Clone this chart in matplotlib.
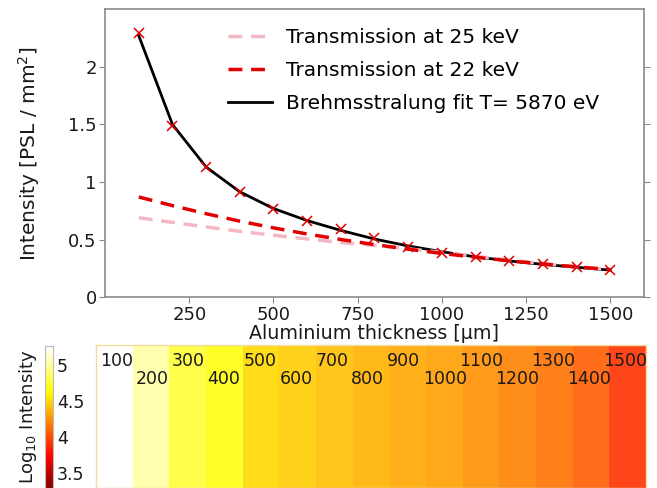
import numpy as np
import matplotlib
matplotlib.use('Agg')
import matplotlib.pyplot as plt

# aluminium thickness in µm
thickness = [100, 200, 300, 400, 500, 600, 700, 800, 900, 1000, 1100, 1200, 1300, 1400, 1500]

# measured intensity [PSL / mm^2]
measured = [2.29, 1.49, 1.13, 0.91, 0.77, 0.66, 0.59, 0.51, 0.44, 0.385, 0.345, 0.31, 0.285, 0.265, 0.235]
# bremsstrahlung fit
fit = [2.27, 1.50, 1.13, 0.915, 0.77, 0.665, 0.58, 0.505, 0.445, 0.395, 0.35, 0.315, 0.285, 0.26, 0.235]
# transmission curves
trans_22 = [0.87, 0.795, 0.725, 0.66, 0.602, 0.549, 0.501, 0.457, 0.417, 0.38, 0.347, 0.316, 0.288, 0.263, 0.24]
trans_25 = [0.69, 0.65, 0.61, 0.572, 0.538, 0.506, 0.475, 0.45, 0.42, 0.39, 0.355, 0.322, 0.292, 0.265, 0.24]

# log10 intensity of each strip on the image plate
strip_log = [5.25, 5.03, 4.77, 4.68, 4.51, 4.46, 4.41, 4.37, 4.33, 4.30, 4.25, 4.19, 4.13, 4.06, 3.91]

plt.rcParams['font.family'] = 'DejaVu Sans'
grey = '#8a8a8a'
txt = '#1a1a1a'

fig = plt.figure(figsize=(6.57, 4.88), dpi=100)

# ---- top: intensity vs thickness
ax = fig.add_axes([0.160, 0.391, 0.820, 0.590])
ln_fit, = ax.plot(thickness, fit, color='black', lw=2, zorder=2)
ln_25, = ax.plot(thickness, trans_25, color='#f2b8c4', lw=2.5, ls=(0, (4, 2.5)), zorder=3)
ln_22, = ax.plot(thickness, trans_22, color='#e00000', lw=2.5, ls=(0, (4, 2.5)), zorder=4)
ax.plot(thickness, measured, ls='none', marker='x', ms=7, mew=1.1, color='#e00000', zorder=5)

ax.set_xlim(0, 1600)
ax.set_ylim(0, 2.5)
ax.set_xticks([250, 500, 750, 1000, 1250, 1500])
ax.set_yticks([0, 0.5, 1, 1.5, 2])
ax.set_yticklabels(['0', '0.5', '1', '1.5', '2'])
ax.tick_params(direction='out', length=4, color=grey, labelcolor=txt, labelsize=13,
               right=True, pad=2)
for sp in ax.spines.values():
    sp.set_color(grey)
    sp.set_linewidth(1.2)
ax.set_xlabel('Aluminium thickness [µm]', fontsize=13.7, color=txt, labelpad=0)
ax.set_ylabel('Intensity [PSL / mm$^2$]', fontsize=14.5, color=txt, labelpad=19)

ax.legend([ln_25, ln_22, ln_fit],
          ['Transmission at 25 keV', 'Transmission at 22 keV', 'Brehmsstralung fit T= 5870 eV'],
          loc='upper left', bbox_to_anchor=(0.2134, 0.963), borderaxespad=0, frameon=False,
          fontsize=14.5, handlelength=2.2, handletextpad=0.65, labelspacing=0.70, borderpad=0.4)

# ---- bottom: image plate strips
axi = fig.add_axes([0.146, 0.0, 0.837, 0.293])
img = np.array([strip_log])
im = axi.imshow(img, cmap='hot', vmin=2.86, vmax=5.25, aspect='auto', alpha=0.9,
                extent=(thickness[0] - 50, thickness[-1] + 50, 0, 1), interpolation='nearest')
axi.set_xticks([])
axi.set_yticks([])
for sp in axi.spines.values():
    sp.set_color('#f3dca0')
    sp.set_linewidth(1.0)
for i, t in enumerate(thickness):
    yy = 0.888 if i % 2 == 0 else 0.762
    axi.text(0.0073 + i * 0.0653, yy, str(t), transform=axi.transAxes, ha='left', va='center',
             fontsize=12.5, color=txt)

cax = fig.add_axes([0.0685, 0.0, 0.0122, 0.291])
cb = fig.colorbar(im, cax=cax)
cb.solids.set_alpha(1)
cax.set_ylim(3.29, 5.27)
cb.set_ticks([3.5, 4, 4.5, 5])
cb.set_ticklabels(['3.5', '4', '4.5', '5'])
cax.tick_params(length=0, labelsize=12.5, labelcolor=txt, pad=3)
cb.outline.set_edgecolor('#bbbbbb')
cb.outline.set_linewidth(0.8)
cax.yaxis.set_label_position('left')
cax.set_ylabel('Log$_{10}$ Intensity', fontsize=13, color=txt)
cax.yaxis.set_label_coords(-0.8, 0.5)

fig.savefig('out.png', dpi=100)
